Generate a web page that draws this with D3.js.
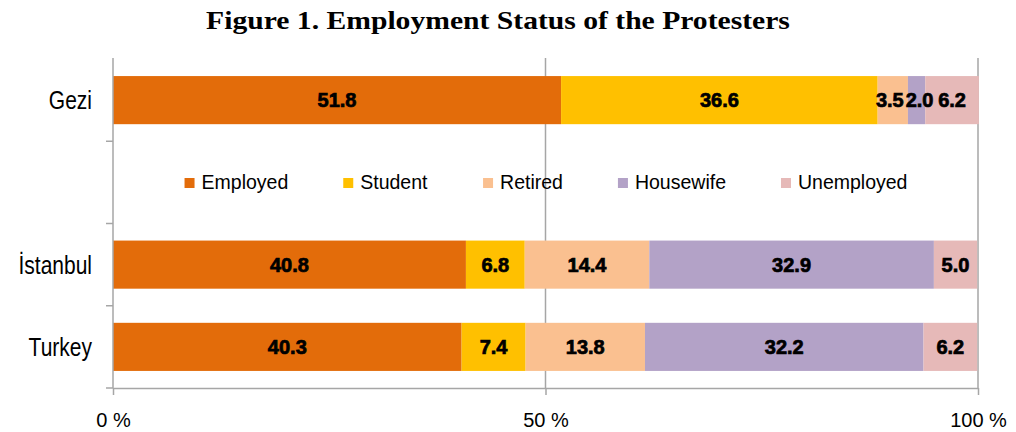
<!DOCTYPE html>
<html>
<head>
<meta charset="utf-8">
<script src="https://cdn.jsdelivr.net/npm/d3@7"></script>
<style>
  body { margin: 0; background: #fff; }
</style>
</head>
<body>
<svg width="1016" height="432"></svg>
<script>
// data
const categories = ["Gezi", "", "İstanbul", "Turkey"]
const series = ["Employed", "Student", "Retired", "Housewife", "Unemployed"]
const colors = ["#e36c0a", "#ffc000", "#fac090", "#b3a2c7", "#e6b9b8"]
const gezi = [51.8, 36.6, 3.5, 2.0, 6.2]
const istanbul = [40.8, 6.8, 14.4, 32.9, 5.0]
const turkey = [40.3, 7.4, 13.8, 32.2, 6.2]
const xTicks = [0, 50, 100]

const rows = [
  { cat: "Gezi", vals: gezi },
  { cat: "İstanbul", vals: istanbul },
  { cat: "Turkey", vals: turkey }
]

const svg = d3.select("svg")
const axisColor = "#a6a6a6"

const x = d3.scaleLinear().domain([0, 100]).range([113, 978])
const pad = 0.415
const y = d3.scaleBand().domain(categories).range([59, 388])
  .paddingInner(pad).paddingOuter(pad / 2)

// title
svg.append("text")
  .attr("transform", "translate(498,29) scale(1.14,1)")
  .attr("text-anchor", "middle")
  .style("font-family", "'Liberation Serif', 'Times New Roman', serif")
  .style("font-weight", "bold")
  .style("font-size", "26px")
  .text("Figure 1. Employment Status of the Protesters")

// gridlines
svg.selectAll(".grid")
  .data(xTicks.slice(1))
  .enter().append("line")
  .attr("x1", d => x(d)).attr("x2", d => x(d))
  .attr("y1", 58).attr("y2", 388)
  .attr("stroke", axisColor)
  .style("stroke-width", 1.5)

// stacked bars
rows.forEach(r => {
  let acc = 0
  const segs = r.vals.map((v, i) => {
    const s = { start: acc, v: v, i: i }
    acc += v
    return s
  })
  const g = svg.append("g")
  g.selectAll("rect")
    .data(segs)
    .enter().append("rect")
    .attr("x", d => x(d.start))
    .attr("width", d => x(d.start + d.v) - x(d.start))
    .attr("y", y(r.cat))
    .attr("height", y.bandwidth())
    .attr("fill", d => colors[d.i])
  const labels = g.selectAll("text")
    .data(segs)
    .enter().append("text")
    .attr("x", d => x(d.start + d.v / 2))
    .attr("y", y(r.cat) + y.bandwidth() / 2 + 7)
    .attr("text-anchor", "middle")
    .style("font-family", "'Liberation Sans', Arial, sans-serif")
    .style("font-weight", "bold")
    .style("font-size", "20px")
    .style("fill", "#000")
    .style("stroke", "#000")
    .style("stroke-width", 0.7)
    .text(d => d.v.toFixed(1))

  // push apart labels that collide (small segments)
  const nodes = []
  labels.each(function (d) {
    nodes.push({ el: this, c: x(d.start + d.v / 2), w: this.getBBox().width })
  })
  for (let k = 0; k < 30; k++) {
    for (let i = 1; i < nodes.length; i++) {
      const a = nodes[i - 1], b = nodes[i]
      const ov = (a.c + a.w / 2 + 2) - (b.c - b.w / 2)
      if (ov > 0) { a.c -= ov / 2; b.c += ov / 2 }
    }
  }
  nodes.forEach(n => d3.select(n.el).attr("x", n.c))
})

// x axis
const xAxis = svg.append("g")
  .attr("transform", "translate(0,388)")
  .call(d3.axisBottom(x).tickValues(xTicks).tickSize(7).tickSizeOuter(0)
    .tickFormat(d => d + " %"))
xAxis.select(".domain").attr("stroke", axisColor).style("stroke-width", 1.5)
xAxis.selectAll(".tick line").attr("stroke", axisColor).style("stroke-width", 1.5)
xAxis.selectAll(".tick text")
  .attr("y", 39).attr("dy", 0)
  .style("font-family", "'Liberation Sans', Arial, sans-serif")
  .style("font-size", "20px")
  .style("fill", "#000")

// y axis (ticks between categories)
const step = y.step()
const bounds = categories.map(c => y(c) - step * pad / 2)
bounds.push(388)
svg.append("line")
  .attr("x1", x(0)).attr("x2", x(0))
  .attr("y1", 58).attr("y2", 388)
  .attr("stroke", axisColor)
  .style("stroke-width", 1.5)
svg.selectAll(".ytick")
  .data(bounds.slice(1))
  .enter().append("line")
  .attr("x1", x(0) - 7).attr("x2", x(0))
  .attr("y1", d => d).attr("y2", d => d)
  .attr("stroke", axisColor)
  .style("stroke-width", 1.5)

svg.selectAll(".ylab")
  .data(categories.filter(c => c))
  .enter().append("text")
  .attr("transform", d => `translate(92,${y(d) + y.bandwidth() / 2 + 9}) scale(1,1.2)`)
  .attr("text-anchor", "end")
  .style("font-family", "'Liberation Sans', Arial, sans-serif")
  .style("font-size", "21px")
  .text(d => d)

// legend
const legY = 182
const legend = svg.append("g")
const items = legend.selectAll("g")
  .data(series)
  .enter().append("g")
items.append("rect")
  .attr("width", 10).attr("height", 10)
  .attr("y", legY - 4)
  .attr("fill", (d, i) => colors[i])
items.append("text")
  .attr("x", 17)
  .attr("y", legY + 7)
  .style("font-family", "'Liberation Sans', Arial, sans-serif")
  .style("font-size", "19.5px")
  .text(d => d)

let widths = []
items.each(function () { widths.push(this.getBBox().width) })
const gap = 55
const total = d3.sum(widths) + gap * (widths.length - 1)
let lx = 546 - total / 2
items.attr("transform", (d, i) => {
  const t = `translate(${lx},0)`
  lx += widths[i] + gap
  return t
})
</script>
</body>
</html>
